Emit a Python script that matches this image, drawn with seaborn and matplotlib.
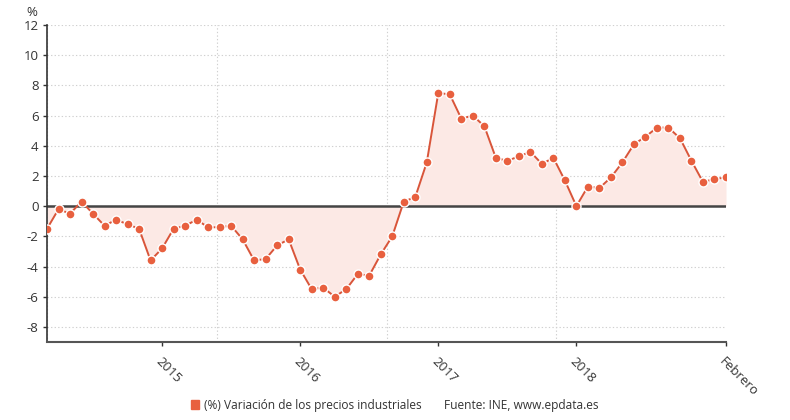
import numpy as np
import pandas as pd
import matplotlib
matplotlib.use("Agg")
import matplotlib.pyplot as plt
import seaborn as sns
from matplotlib.patches import Patch

# Monthly data, March 2014 .. February 2019
values = [-1.5, -0.2, -0.5, 0.3, -0.5, -1.3, -0.9, -1.2, -1.5, -3.6,
          -2.8, -1.5, -1.3, -0.9, -1.4, -1.4, -1.3, -2.2, -3.6, -3.5,
          -2.6, -2.2, -4.2, -5.5, -5.4, -6.0, -5.5, -4.5, -4.6, -3.2,
          -2.0, 0.3, 0.6, 2.9, 7.5, 7.4, 5.8, 6.0, 5.3, 3.2,
          3.0, 3.3, 3.6, 2.8, 3.2, 1.7, 0.0, 1.3, 1.2, 1.9,
          2.9, 4.1, 4.6, 5.2, 5.2, 4.5, 3.0, 1.6, 1.8, 1.9]
months = pd.date_range("2014-03-01", periods=len(values), freq="MS")
tick_labels = ["2015", "2016", "2017", "2018", "Febrero"]
tick_dates = ["2015-01-01", "2016-01-01", "2017-01-01", "2018-01-01", "2019-02-01"]
series_name = "(%) Variación de los precios industriales"
source = "Fuente: INE, www.epdata.es"

df = pd.DataFrame({"idx": np.arange(len(values)), "value": values, "month": months})

sns.set_theme(style="white")
plt.rcParams["font.family"] = ["Open Sans", "DejaVu Sans"]

fig = plt.figure(figsize=(7.9, 4.2), dpi=100)
ax = fig.add_axes([47/790, 1-342/420, (726-47)/790, (342-25)/420])

line_c = "#d9553a"
mark_c = "#e8603f"
fill_c = "#fce9e5"

ax.fill_between(df["idx"], df["value"], 0, color=fill_c, lw=0, zorder=1)
ax.axhline(0, color="#444444", lw=1.8, zorder=2)
sns.lineplot(data=df, x="idx", y="value", ax=ax, color=line_c, lw=1.4,
             marker="o", markersize=6.5, markerfacecolor=mark_c,
             markeredgecolor="white", markeredgewidth=1.0, zorder=3)

n = len(values)
ax.set_xlim(0, n - 1)
ax.set_ylim(-9, 12)
ax.set_yticks(np.arange(-8, 13, 2))
ax.set_yticklabels([str(v) for v in range(-8, 13, 2)])

tick_pos = [int(np.where(months == pd.Timestamp(d))[0][0]) for d in tick_dates]
ax.set_xticks(tick_pos)
ax.set_xticklabels(tick_labels, rotation=-45, ha="left", va="top",
                   rotation_mode="anchor")
ax.set_xticks(np.linspace(0, n - 1, 5), minor=True)

ax.set_xlabel("")
ax.set_ylabel("")
ax.grid(False)
ax.yaxis.grid(True, color="#d0d0d0", linestyle=(0, (1.2, 2)), lw=0.8)
ax.xaxis.grid(True, which="minor", color="#d0d0d0", linestyle=(0, (1.2, 2)), lw=0.8)
ax.set_axisbelow(True)

for s in ["top", "right"]:
    ax.spines[s].set_visible(False)
ax.spines["left"].set_color("#333333")
ax.spines["left"].set_linestyle((0, (1, 1)))
ax.spines["left"].set_linewidth(1.2)
ax.spines["bottom"].set_color("#555555")
ax.spines["bottom"].set_linewidth(1.5)

ax.tick_params(axis="y", which="major", length=3, width=1, color="#333333",
               labelsize=9.5, labelcolor="#333333", pad=3, left=True)
ax.tick_params(axis="x", which="major", length=3, width=1, color="#333333",
               labelsize=9.5, labelcolor="#333333", pad=6, bottom=True)
ax.tick_params(axis="x", which="minor", length=0)

fig.text(32/790, 1-12/420, "%", fontsize=9.5, color="#333333", ha="center", va="center")

leg = fig.legend(handles=[Patch(color=mark_c, label=series_name)],
                 loc="center left", bbox_to_anchor=(180/790, 1-405/420),
                 frameon=False, handlelength=0.7, handleheight=0.7,
                 handletextpad=0.4, fontsize=8.6)
for t in leg.get_texts():
    t.set_color("#333333")
fig.text(444/790, 1-405/420, source, fontsize=8.6, color="#333333",
         ha="left", va="center")

fig.savefig("out.png", dpi=100)
